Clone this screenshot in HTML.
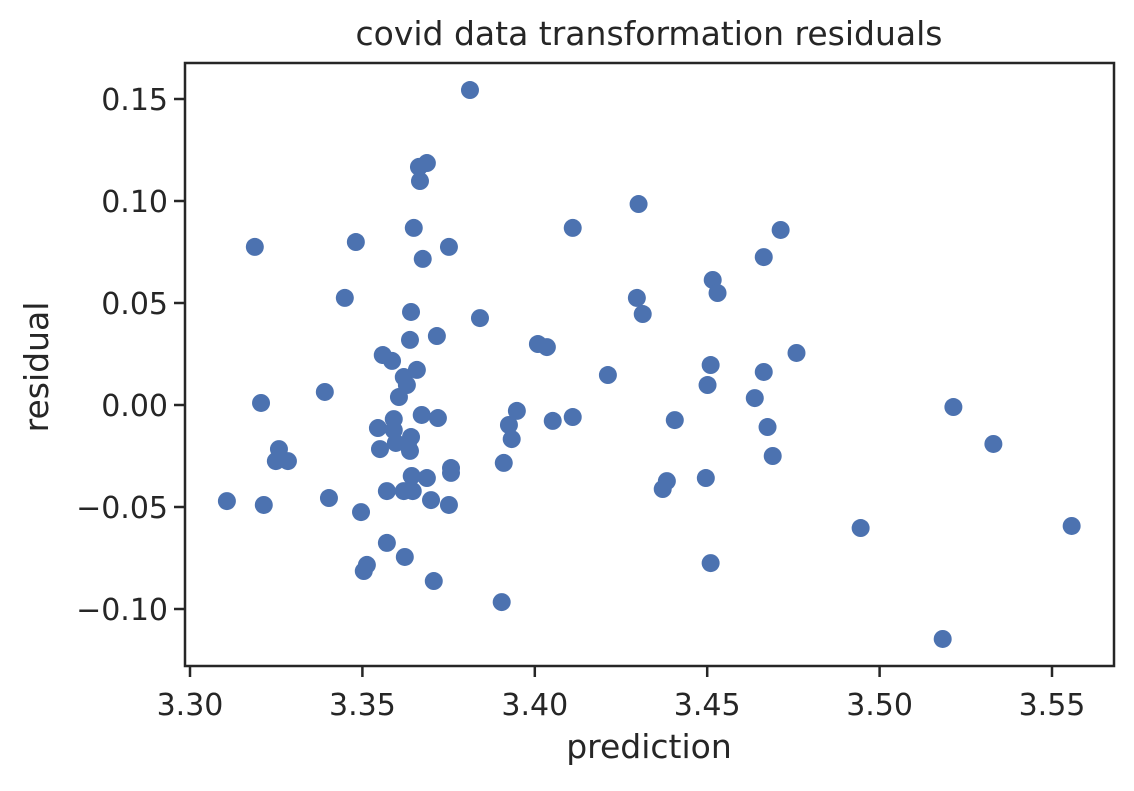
<!DOCTYPE html>
<html><head><meta charset="utf-8"><style>
body{margin:0;background:#fff}
svg text{font-family:"DejaVu Sans","Liberation Sans",sans-serif;fill:#262626}
</style></head><body>
<svg id="chart" width="1134" height="786" viewBox="0 0 1134 786" xmlns="http://www.w3.org/2000/svg">
<text x="649" y="45" font-size="33" text-anchor="middle">covid data transformation residuals</text>
<g id="points"></g>
<rect x="185" y="63" width="929" height="603" fill="none" stroke="#262626" stroke-width="2.5"/>
<g id="xticks"></g>
<g id="yticks"></g>
<text x="649" y="758" font-size="33" text-anchor="middle">prediction</text>
<text transform="translate(48,367) rotate(-90)" font-size="33" text-anchor="middle">residual</text>
</svg>
<script>
const predictions=[3.3107,3.3188,3.3206,3.3214,3.3258,3.3249,3.3284,3.3391,3.3403,3.3449,3.3481,3.3496,3.3504,3.3513,3.3545,3.3551,3.3559,3.3571,3.3571,3.3586,3.3591,3.3591,3.3597,3.3606,3.3620,3.3620,3.3623,3.3629,3.3632,3.3638,3.3638,3.3641,3.3641,3.3643,3.3646,3.3649,3.3658,3.3664,3.3667,3.3672,3.3675,3.3687,3.3687,3.3699,3.3707,3.3719,3.3716,3.3751,3.3757,3.3757,3.3751,3.3812,3.3841,3.3904,3.3910,3.3925,3.3933,3.3948,3.4009,3.4035,3.4052,3.4110,3.4110,3.4212,3.4296,3.4301,3.4313,3.4371,3.4383,3.4406,3.4496,3.4501,3.4510,3.4510,3.4516,3.4530,3.4638,3.4664,3.4664,3.4675,3.4690,3.4713,3.4759,3.4945,3.5183,3.5214,3.5330,3.5557];
const residuals=[-0.0471,0.0775,0.0010,-0.0490,-0.0216,-0.0275,-0.0275,0.0064,-0.0456,0.0525,0.0799,-0.0525,-0.0814,-0.0784,-0.0113,-0.0216,0.0245,-0.0422,-0.0676,0.0216,-0.0069,-0.0123,-0.0186,0.0039,0.0137,-0.0422,-0.0745,0.0098,-0.0196,-0.0225,0.0319,0.0456,-0.0157,-0.0348,-0.0422,0.0868,0.0172,0.1167,0.1098,-0.0049,0.0716,0.1186,-0.0358,-0.0466,-0.0863,-0.0064,0.0338,0.0775,-0.0309,-0.0333,-0.0490,0.1544,0.0426,-0.0966,-0.0284,-0.0098,-0.0167,-0.0029,0.0299,0.0284,-0.0078,-0.0059,0.0868,0.0147,0.0525,0.0985,0.0446,-0.0412,-0.0373,-0.0074,-0.0358,0.0098,0.0196,-0.0775,0.0613,0.0549,0.0034,0.0725,0.0162,-0.0108,-0.0250,0.0858,0.0255,-0.0603,-0.1147,-0.0010,-0.0191,-0.0593];
const xTickValues=[3.30,3.35,3.40,3.45,3.50,3.55];
const xTickLabels=["3.30","3.35","3.40","3.45","3.50","3.55"];
const yTickValues=[-0.10,-0.05,0.00,0.05,0.10,0.15];
const yTickLabels=["\u22120.10","\u22120.05","0.00","0.05","0.10","0.15"];
const NS="http://www.w3.org/2000/svg";
function xs(v){return 190+(v-3.30)*3448;}
function ys(v){return 405-v*2040;}
function mk(t,a,p){const e=document.createElementNS(NS,t);for(const k in a)e.setAttribute(k,a[k]);p.appendChild(e);return e;}
const pg=document.getElementById('points');
predictions.forEach((x,i)=>{const c=mk('circle',{cx:xs(x),cy:ys(residuals[i]),r:9,fill:'#4c72b0'},pg);

});
const xg=document.getElementById('xticks');
xTickValues.forEach((v,i)=>{const x=xs(v);
const l=mk('line',{x1:x,x2:x,y1:666,y2:677,stroke:'#262626','stroke-width':2.5},xg);


const t=mk('text',{x:x,y:715,'font-size':30,'text-anchor':'middle'},xg);t.textContent=xTickLabels[i];

});
const yg=document.getElementById('yticks');
yTickValues.forEach((v,i)=>{const y=ys(v);
const l=mk('line',{x1:174,x2:185,y1:y,y2:y,stroke:'#262626','stroke-width':2.5},yg);


const t=mk('text',{x:168,y:y+11,'font-size':30,'text-anchor':'end'},yg);t.textContent=yTickLabels[i];

});
</script>
</body></html>
